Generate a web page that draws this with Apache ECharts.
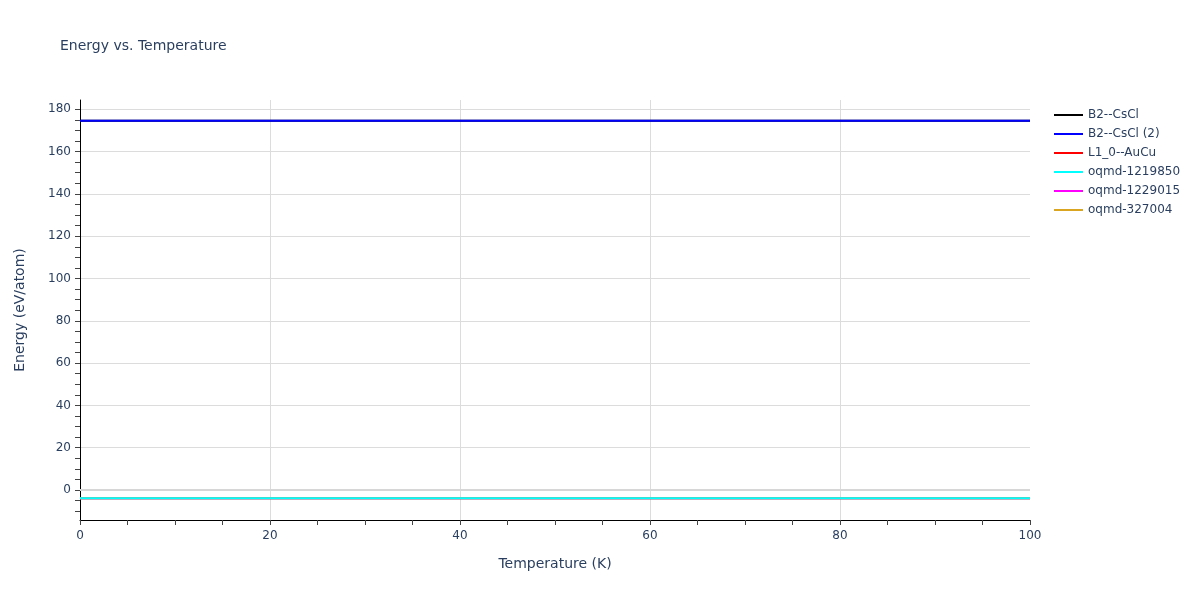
<!DOCTYPE html>
<html>
<head>
<meta charset="utf-8">
<script src="https://cdn.jsdelivr.net/npm/echarts@6/dist/echarts.min.js"></script>
<style>html,body{margin:0;padding:0;background:#fff}#c{width:1200px;height:600px}</style>
</head>
<body>
<div id="c"></div>
<script>
const temperatures = [0, 10, 20, 30, 40, 50, 60, 70, 80, 90, 100];
const b2CsCl      = [174.6, 174.6, 174.6, 174.6, 174.6, 174.6, 174.6, 174.6, 174.6, 174.6, 174.6];
const b2CsCl2     = [174.6, 174.6, 174.6, 174.6, 174.6, 174.6, 174.6, 174.6, 174.6, 174.6, 174.6];
const l10AuCu     = [-3.97, -3.97, -3.97, -3.97, -3.97, -3.97, -3.97, -3.97, -3.97, -3.97, -3.97];
const oqmd1219850 = [-3.97, -3.97, -3.97, -3.97, -3.97, -3.97, -3.97, -3.97, -3.97, -3.97, -3.97];
const oqmd1229015 = [-3.97, -3.97, -3.97, -3.97, -3.97, -3.97, -3.97, -3.97, -3.97, -3.97, -3.97];
const oqmd327004  = [-3.97, -3.97, -3.97, -3.97, -3.97, -3.97, -3.97, -3.97, -3.97, -3.97, -3.97];
const seriesNames = ['B2--CsCl', 'B2--CsCl (2)', 'L1_0--AuCu', 'oqmd-1219850', 'oqmd-1229015', 'oqmd-327004'];
const yTickValues = [-10, -5, 0, 5, 10, 15, 20, 25, 30, 35, 40, 45, 50, 55, 60, 65, 70, 75, 80, 85, 90, 95, 100, 105, 110, 115, 120, 125, 130, 135, 140, 145, 150, 155, 160, 165, 170, 175, 180];

const font = '"DejaVu Sans", Verdana, sans-serif';
const textColor = '#2a3f5f';
const yMin = -14.2, yMax = 184.4;

function pairs(vals) { return temperatures.map((t, i) => [t, vals[i]]); }
function mk(name, vals, color, z) {
  return {
    name: name, type: 'line', data: pairs(vals), symbol: 'none', showSymbol: false,
    lineStyle: { color: color, width: 2 }, itemStyle: { color: color }, z: z,
    emphasis: { disabled: true }, silent: true
  };
}

const chart = echarts.init(document.getElementById('c'), null, { renderer: 'canvas' });
const series = [
  mk(seriesNames[0], b2CsCl, '#000000', 3),
  mk(seriesNames[1], b2CsCl2, '#0000ff', 4),
  mk(seriesNames[2], l10AuCu, '#ff0000', 3),
  mk(seriesNames[3], oqmd1219850, '#00ffff', 6),
  mk(seriesNames[4], oqmd1229015, '#ff00ff', 3),
  mk(seriesNames[5], oqmd327004, '#daa520', 3)
];
series[0].markLine = {
  silent: true, symbol: 'none', label: { show: false },
  lineStyle: { color: '#d6d6d6', width: 2, type: 'solid' },
  data: [{ yAxis: 0 }], z: 1
};
chart.setOption({
  animation: false,
  backgroundColor: '#fff',
  textStyle: { fontFamily: font },
  title: {
    text: 'Energy vs. Temperature', left: 60, top: 39, padding: 0,
    textStyle: { fontFamily: font, fontSize: 14, fontWeight: 'normal', color: textColor }
  },
  legend: {
    data: seriesNames, orient: 'vertical', left: 1054, top: 108, padding: 0,
    icon: 'rect', itemWidth: 29, itemHeight: 2, itemGap: 5,
    textStyle: { fontFamily: font, fontSize: 12, color: textColor, lineHeight: 14 },
    selectedMode: false
  },
  grid: { left: 80, right: 170, top: 100, bottom: 80, containLabel: false },
  xAxis: {
    type: 'value', min: 0, max: 100, interval: 20,
    name: 'Temperature (K)', nameLocation: 'middle', nameGap: 37,
    nameTextStyle: { fontFamily: font, fontSize: 14, color: textColor },
    axisLine: { show: true, onZero: false, lineStyle: { color: '#000', width: 1 } },
    axisTick: { show: true, length: 5, lineStyle: { color: '#444' } },
    minorTick: { show: true, splitNumber: 4, length: 5, lineStyle: { color: '#444' } },
    axisLabel: { fontFamily: font, fontSize: 12, color: textColor, margin: 10 },
    splitLine: { show: true, showMinLine: false, showMaxLine: false, lineStyle: { color: '#dcdcdc', width: 1 } }
  },
  yAxis: [{
    type: 'value', min: yMin, max: yMax, splitNumber: 10,
    name: 'Energy (eV/atom)', nameLocation: 'middle', nameGap: 53,
    nameTextStyle: { fontFamily: font, fontSize: 14, color: textColor },
    axisLine: { show: true, onZero: false, lineStyle: { color: '#000', width: 1 } },
    axisTick: { show: false },
    axisLabel: { fontFamily: font, fontSize: 12, color: textColor, margin: 9, showMinLabel: false, showMaxLabel: false },
    splitLine: { show: true, showMinLine: false, showMaxLine: false, lineStyle: { color: '#dcdcdc', width: 1 } }
  }, {
    type: 'value', min: yMin, max: yMax, position: 'left', offset: 0,
    axisLine: { show: false },
    axisLabel: { show: false },
    splitLine: { show: false },
    axisTick: { show: true, length: 5, customValues: yTickValues, lineStyle: { color: '#444' } }
  }],
  series: series
});
</script>
</body>
</html>
